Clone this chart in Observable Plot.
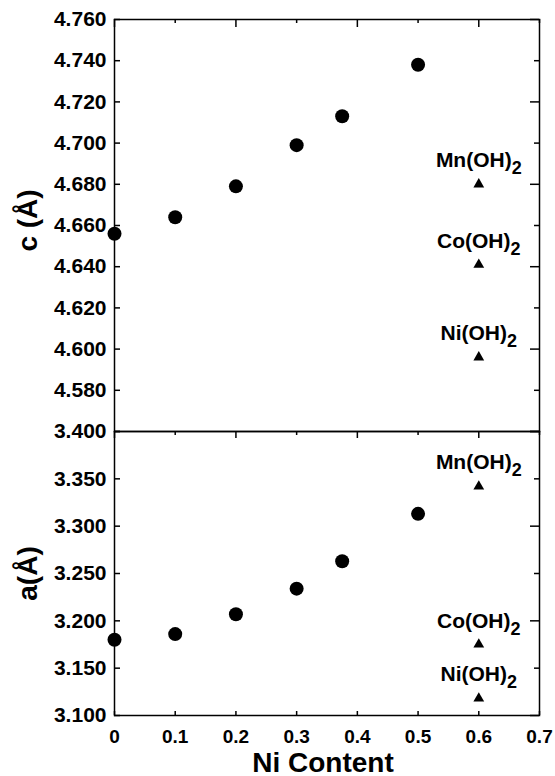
<!DOCTYPE html>
<html><head><meta charset="utf-8">
<script src="https://cdn.jsdelivr.net/npm/d3@7"></script>
<script src="https://cdn.jsdelivr.net/npm/@observablehq/plot@0.6"></script>
<style>
html,body{margin:0;padding:0;background:#fff;}
#chart svg{display:block;}
</style></head><body><div id="chart"></div>
<script>
// ---- data ----
const niContent = [0, 0.1, 0.2, 0.3, 0.375, 0.5];
const cValues = [4.656, 4.664, 4.679, 4.699, 4.713, 4.738];
const aValues = [3.180, 3.186, 3.207, 3.234, 3.263, 3.313];
const refNames = ["Mn(OH)2", "Co(OH)2", "Ni(OH)2"];
const refX = [0.6, 0.6, 0.6];
const refC = [4.680, 4.641, 4.596];
const refA = [3.342, 3.175, 3.118];
const xTicks = [0, 0.1, 0.2, 0.3, 0.4, 0.5, 0.6, 0.7];
const cTicks = [4.56, 4.58, 4.60, 4.62, 4.64, 4.66, 4.68, 4.70, 4.72, 4.74, 4.76];
const cTickLabels = [4.58, 4.60, 4.62, 4.64, 4.66, 4.68, 4.70, 4.72, 4.74, 4.76];
const aTicks = [3.10, 3.15, 3.20, 3.25, 3.30, 3.35, 3.40];
const cTitle = "c (Å)";
const aTitle = "a(Å)";
const xTitle = "Ni Content";

const font = "'Liberation Sans', Arial, Helvetica, sans-serif";
const W = 555, ML = 114, MR = 16;
const PW = W - ML - MR; // inner plot width
const pts = (ys) => niContent.map((x, i) => ({x, y: ys[i]}));
const refs = (ys) => refNames.map((name, i) => ({name, x: refX[i], y: ys[i]}));
const even = (arr) => arr.filter((d, i) => i % 2 === 0);
const odd = (arr) => arr.filter((d, i) => i % 2 === 1);
const tk = {stroke: "#000", strokeWidth: 1.5};

// inward ticks along the left / right frame edges
function yTickMarks(yTicks) {
  return [
    Plot.tickY(yTicks, {y: d => d, insetRight: PW - 6, ...tk}),
    Plot.tickY(even(yTicks), {y: d => d, insetLeft: PW - 9, ...tk}),
    Plot.tickY(odd(yTicks), {y: d => d, insetLeft: PW - 5, ...tk})
  ];
}
// inward ticks along top (down) / bottom (up) frame edges
function xTickMarks(PH, topLong, topShort, bottom) {
  const m = [
    Plot.tickX(even(xTicks), {x: d => d, insetBottom: PH - topLong, ...tk}),
    Plot.tickX(odd(xTicks), {x: d => d, insetBottom: PH - topShort, ...tk})
  ];
  if (bottom) m.push(Plot.tickX(xTicks, {x: d => d, insetTop: PH - bottom, ...tk}));
  return m;
}

function commonMarks(ys, refYs, yTicks, yLabels, title, titleDy) {
  return [
    Plot.axisY(yLabels, {anchor: "left", tickSize: 0, tickPadding: 8, fontSize: 21, fontWeight: "bold", tickFormat: d3.format(".3f"), label: null}),
    ...yTickMarks(yTicks),
    Plot.frame({stroke: "#000", strokeWidth: 1.5}),
    Plot.dot(pts(ys), {x: "x", y: "y", r: 7, fill: "#000", stroke: null}),
    Plot.dot(refs(refYs), {x: "x", y: "y", symbol: "triangle", r: 4, fill: "#000", stroke: null}),
    Plot.text(refs(refYs), {x: "x", y: "y", text: "name", textAnchor: "middle", lineAnchor: "bottom", dy: -17, fontSize: 21, fontWeight: "bold", fill: "#000"}),
    Plot.text([title], {frameAnchor: "left", textAnchor: "middle", rotate: -90, dx: -86, dy: titleDy, fontSize: 28, fontWeight: "bold", fill: "#000"})
  ];
}

const topH = 431, topMT = 19, topMB = 0;
const topPlot = Plot.plot({
  width: W, height: topH,
  marginLeft: ML, marginRight: MR, marginTop: topMT, marginBottom: topMB,
  style: {fontFamily: font, fontWeight: "bold", color: "#000", background: "#fff", overflow: "visible"},
  x: {domain: [0, 0.7], axis: null},
  y: {domain: [4.56, 4.76]},
  marks: [
    ...xTickMarks(topH - topMT - topMB, 8, 4, 0),
    ...commonMarks(cValues, refC, cTicks, cTickLabels, cTitle, -5)
  ]
});

const botH = 345, botMT = 0, botMB = 61;
const bottomPlot = Plot.plot({
  width: W, height: botH,
  marginLeft: ML, marginRight: MR, marginTop: botMT, marginBottom: botMB,
  style: {fontFamily: font, fontWeight: "bold", color: "#000", background: "#fff", overflow: "visible"},
  x: {domain: [0, 0.7]},
  y: {domain: [3.10, 3.40]},
  marks: [
    Plot.axisX(xTicks, {anchor: "bottom", tickSize: 0, tickPadding: 14, fontSize: 19, fontWeight: "bold", tickFormat: d3.format("~g"), label: null}),
    ...xTickMarks(botH - botMT - botMB, 7, 4, 4),
    ...commonMarks(aValues, refA, aTicks, aTicks, aTitle, 0),
    Plot.text([xTitle], {frameAnchor: "bottom", textAnchor: "middle", lineAnchor: "bottom", dy: 56, dx: -4, fontSize: 28, fontWeight: "bold", fill: "#000"})
  ]
});

// render the "2" of each hydroxide label as a lowered subscript (still real text)
for (const svg of [topPlot, bottomPlot]) {
  d3.select(svg).selectAll("text").each(function() {
    const t = this.textContent;
    if (refNames.includes(t)) {
      const sel = d3.select(this);
      sel.text(t.slice(0, -1));
      sel.append("tspan").attr("dy", 7).attr("font-size", 18).text(t.slice(-1));
    }
  });
}

const chart = document.getElementById("chart");
chart.appendChild(topPlot);
chart.appendChild(bottomPlot);
</script>
</body></html>
